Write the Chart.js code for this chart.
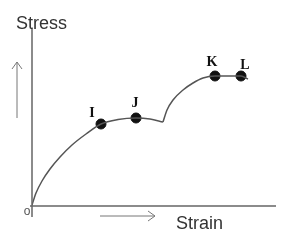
<!DOCTYPE html>
<html>
<head>
<meta charset="utf-8">
<script src="https://cdn.jsdelivr.net/npm/chart.js@4/dist/chart.umd.min.js"></script>
<style>
  body { margin: 0; background: #fff; }
  #wrap { width: 300px; height: 244px; }
</style>
</head>
<body>
<div id="wrap"><canvas id="stress-chart"></canvas></div>
<script>
// curve (strain, stress in arbitrary units)
var strainRise = [0, 4, 10, 18, 28, 40, 54, 69, 86, 104, 118, 131];
var stressRise = [1, 13, 25, 37, 49, 61, 72, 82, 86.5, 88, 87, 84];
var strainHarden = [131, 135, 141, 151, 161, 171, 183, 209, 216];
var stressHarden = [84, 96, 106, 116, 123, 128, 130, 130, 127];

// marked points
var pointNames = ['I', 'J', 'K', 'L'];
var pointStrain = [69, 104, 183, 209];
var pointStress = [82, 88, 130, 130];

function toXY(xs, ys) {
    var out = [];
    for (let i = 0; i < xs.length; i++) {
        out.push({ x: xs[i], y: ys[i] });
    }
    return out;
}

// label offsets from their dots, in pixels
var labelOffsets = [[-9, -11], [-1, -15], [-3, -14], [4, -11]];

var decorations = {
    id: 'decorations',
    afterDraw: function (chart) {
        var ctx = chart.ctx;
        var x = chart.scales.x;
        var y = chart.scales.y;
        var x0 = x.getPixelForValue(0);
        var y0 = y.getPixelForValue(0);

        ctx.save();
        // axes
        ctx.strokeStyle = '#666';
        ctx.lineWidth = 1.5;
        ctx.beginPath();
        ctx.moveTo(x0, chart.chartArea.top);
        ctx.lineTo(x0, y0 + 11);
        ctx.moveTo(x0 - 2, y0);
        ctx.lineTo(chart.chartArea.right, y0);
        ctx.stroke();

        // direction arrows
        ctx.strokeStyle = '#777';
        ctx.lineWidth = 1;
        ctx.beginPath();
        ctx.moveTo(17, 118);
        ctx.lineTo(17, 62);
        ctx.moveTo(12, 69);
        ctx.lineTo(17, 62);
        ctx.lineTo(22, 69);
        ctx.moveTo(100, 216);
        ctx.lineTo(155, 216);
        ctx.moveTo(148, 211);
        ctx.lineTo(155, 216);
        ctx.lineTo(148, 221);
        ctx.stroke();

        // axis words
        ctx.fillStyle = '#333';
        ctx.font = '18px "Liberation Sans", Arial, sans-serif';
        ctx.textBaseline = 'middle';
        ctx.textAlign = 'left';
        ctx.fillText('Stress', 16, 24);
        ctx.fillText('Strain', 176, 224);

        ctx.fillStyle = '#555';
        ctx.font = '12px "Liberation Sans", Arial, sans-serif';
        ctx.textAlign = 'center';
        ctx.fillText('o', x0 - 5, y0 + 6);

        // point letters
        ctx.fillStyle = '#111';
        ctx.font = 'bold 14px "Liberation Serif", "Times New Roman", serif';
        for (let i = 0; i < pointNames.length; i++) {
            var px = x.getPixelForValue(pointStrain[i]);
            var py = y.getPixelForValue(pointStress[i]);
            ctx.fillText(pointNames[i], px + labelOffsets[i][0], py + labelOffsets[i][1]);
        }
        ctx.restore();
    }
};

new Chart('stress-chart', {
    type: 'line',
    data: {
        datasets: [{
            data: toXY(strainRise, stressRise),
            borderColor: '#555',
            borderWidth: 1.5,
            pointRadius: 0,
            cubicInterpolationMode: 'monotone'
        }, {
            data: toXY(strainHarden, stressHarden),
            borderColor: '#555',
            borderWidth: 1.5,
            pointRadius: 0,
            cubicInterpolationMode: 'monotone'
        }, {
            data: toXY(pointStrain, pointStress),
            showLine: false,
            pointRadius: 5,
            pointBackgroundColor: '#111',
            pointBorderColor: '#111'
        }]
    },
    options: {
        responsive: true,
        maintainAspectRatio: false,
        animation: false,
        layout: {
            padding: { left: 32, right: 24, top: 29, bottom: 38 }
        },
        plugins: {
            legend: { display: false },
            tooltip: { enabled: false }
        },
        scales: {
            x: { type: 'linear', min: 0, max: 244, display: false },
            y: { type: 'linear', min: 0, max: 177, display: false }
        }
    },
    plugins: [decorations]
});
</script>
</body>
</html>
